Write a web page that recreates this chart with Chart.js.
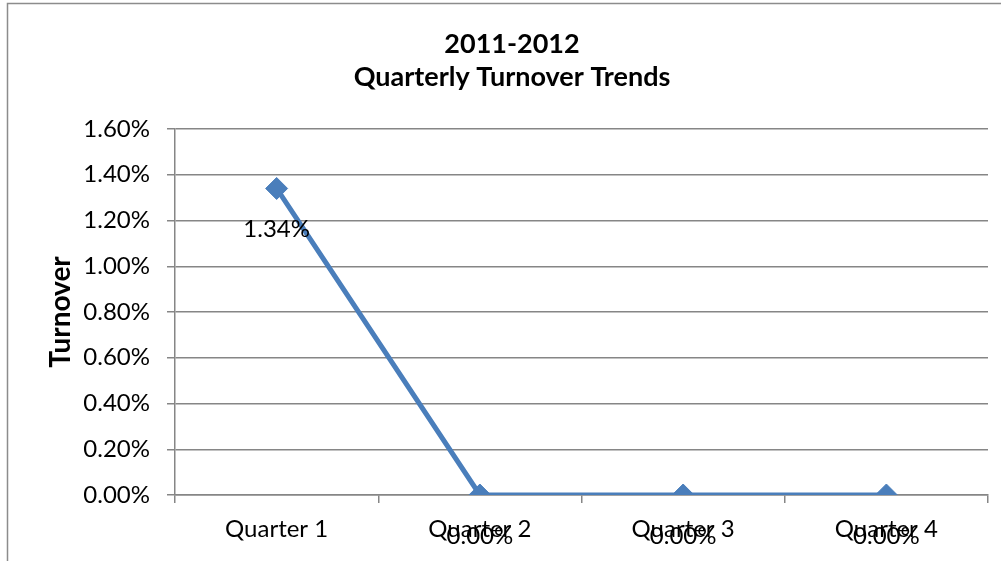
<!DOCTYPE html>
<html>
<head>
<meta charset="utf-8">
<script src="https://cdn.jsdelivr.net/npm/chart.js@4.4.0/dist/chart.umd.min.js"></script>
<style>
  html, body { margin: 0; padding: 0; background: #fff; overflow: hidden; }
  #wrap { width: 1001px; height: 561px; }
</style>
</head>
<body>
<div id="wrap"><canvas id="grafica"></canvas></div>
<script>
// ======= DATOS =======
const trimestres = ["Quarter 1", "Quarter 2", "Quarter 3", "Quarter 4"];
const rotacion = [1.34, 0, 0, 0];
const tituloLineas = ["2011-2012", "Quarterly Turnover Trends"];
const tituloEjeY = "Turnover";

const FUENTE = "Lato, 'Open Sans', sans-serif";
const GRIS = "#868686";
const AZUL = "#4A7EBB";

const fmt = v => Number(v).toFixed(2) + "%";

// marco exterior del grafico
const marco = {
  id: "marco",
  beforeDraw(chart) {
    const ctx = chart.ctx;
    ctx.save();
    ctx.strokeStyle = "#8c8c8c";
    ctx.lineWidth = 1.5;
    ctx.strokeRect(7.5, 3.5, 2000, 2000);
    ctx.restore();
  }
};

// titulo en dos lineas
const tituloPlugin = {
  id: "tituloPlugin",
  afterDraw(chart) {
    const ctx = chart.ctx;
    const cx = 512;
    ctx.save();
    ctx.fillStyle = "#000";
    ctx.font = "bold 27px " + FUENTE;
    ctx.textAlign = "center";
    ctx.textBaseline = "middle";
    ctx.fillText(tituloLineas[0], cx, 44);
    ctx.fillText(tituloLineas[1], cx, 77);
    ctx.restore();
  }
};

// etiquetas de datos debajo de cada punto
const etiquetas = {
  id: "etiquetas",
  afterDatasetsDraw(chart) {
    const ctx = chart.ctx;
    const meta = chart.getDatasetMeta(0);
    ctx.save();
    ctx.fillStyle = "#000";
    ctx.font = "24px " + FUENTE;
    ctx.textAlign = "center";
    ctx.textBaseline = "middle";
    meta.data.forEach((p, i) => {
      ctx.fillText(fmt(rotacion[i]), p.x, p.y + 41);
    });
    ctx.restore();
  }
};

new Chart(document.getElementById("grafica"), {
  type: "line",
  data: {
    labels: trimestres,
    datasets: [{
      label: "Turnover",
      data: rotacion,
      borderColor: AZUL,
      backgroundColor: AZUL,
      borderWidth: 5,
      pointStyle: "rectRot",
      pointRadius: 11,
      pointBorderWidth: 1,
      pointBackgroundColor: AZUL,
      pointBorderColor: AZUL,
      tension: 0
    }]
  },
  options: {
    responsive: true,
    maintainAspectRatio: false,
    animation: false,
    layout: { padding: { top: 129, right: 13, left: 0, bottom: 0 } },
    plugins: {
      legend: { display: false },
      title: { display: false },
      tooltip: { enabled: false }
    },
    scales: {
      x: {
        offset: true,
        grid: { offset: true, drawOnChartArea: false, drawTicks: true, tickLength: 8, color: GRIS, lineWidth: 1.5 },
        border: { color: GRIS, width: 1.5 },
        ticks: { color: "#000", font: { family: FUENTE, size: 24 }, padding: 12, maxRotation: 0 },
        afterFit: s => { s.height = 66; }
      },
      y: {
        min: 0,
        max: 1.6,
        grid: { color: GRIS, lineWidth: 1.5, tickLength: 8 },
        border: { color: GRIS, width: 1.5 },
        ticks: { stepSize: 0.2, color: "#000", font: { family: FUENTE, size: 24 }, padding: 17, callback: v => fmt(v) },
        title: {
          display: true,
          text: tituloEjeY,
          color: "#000",
          font: { family: FUENTE, size: 28, weight: "bold" },
          padding: { top: 44, bottom: 0 }
        },
        afterFit: s => { s.width = 175; }
      }
    }
  },
  plugins: [marco, tituloPlugin, etiquetas]
});
</script>
</body>
</html>
